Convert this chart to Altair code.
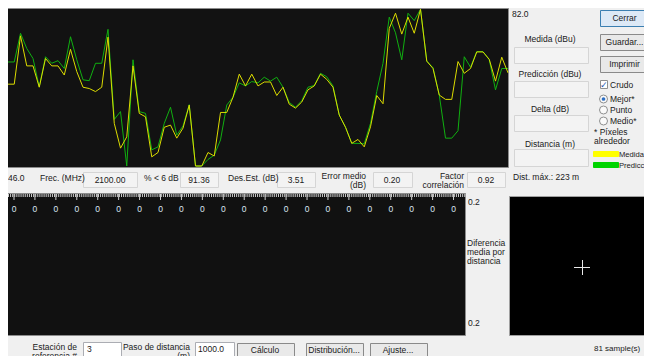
import altair as alt
import pandas as pd
import numpy as np

# ---------------- chart data ----------------
sample = list(range(81))
medida = [64.8, 64.8, 75.9, 69.0, 69.0, 64.1, 70.7, 69.0, 69.0, 66.9,
          72.8, 67.7, 64.1, 63.8, 63.1, 64.1, 75.6, 55.8, 50.1, 52.7,
          69.0, 58.1, 57.3, 48.1, 49.1, 54.9, 55.4, 52.4, 54.7, 60.0,
          46.0, 46.0, 49.1, 48.3, 58.3, 58.3, 61.8, 67.1, 64.4, 67.1,
          64.4, 65.3, 65.3, 62.2, 64.1, 60.2, 59.3, 60.7, 63.5, 64.4,
          67.1, 65.9, 64.1, 57.7, 54.9, 51.2, 52.1, 50.4, 55.0, 62.2,
          60.3, 77.6, 81.1, 76.3, 80.2, 76.5, 82.0, 70.1, 68.4, 62.3,
          61.3, 61.3, 70.0, 67.3, 68.4, 72.2, 72.2, 70.5, 65.5, 71.0, 67.4]
prediccion = [69.9, 69.9, 76.5, 73.0, 70.7, 64.2, 71.1, 69.6, 70.2, 68.4,
              75.7, 70.4, 65.8, 65.6, 69.6, 69.6, 77.4, 56.7, 58.5, 46.0,
              70.4, 58.5, 58.1, 49.7, 50.4, 55.8, 59.5, 53.1, 55.2, 60.1,
              46.0, 46.0, 47.5, 48.5, 52.0, 60.0, 61.8, 65.1, 64.4, 65.4,
              65.1, 66.4, 65.5, 66.4, 64.1, 60.6, 59.5, 61.0, 64.1, 64.5,
              67.3, 66.5, 64.4, 57.7, 54.9, 51.2, 51.2, 51.1, 55.8, 63.1,
              69.6, 80.2, 76.6, 70.4, 81.1, 79.4, 82.0, 70.1, 68.6, 62.3,
              52.4, 52.4, 54.1, 71.1, 68.7, 72.3, 72.3, 70.4, 63.5, 68.4, 68.4]
y_min, y_max = 46.0, 82.0
stats_labels = ["Frec. (MHz)", "% < 6 dB", "Des.Est. (dB)"]
stats_values = ["2100.00", "91.36", "3.51", "0.20", "0.92"]
n_zeros = 22
dist_max = "Dist. máx.: 223 m"
n_samples = "81 sample(s)"

FONT = "Liberation Sans"
TXT = "#1a1a1a"
OFF = 8  # page margin: screen coords -> chart coords


# ---------------- layout helpers ----------------
def R(x1, y1, x2, y2, fill, stroke):
    return dict(x=x1 - OFF + 0.5, y=y1 - OFF + 0.5, x2=x2 - OFF + 0.5, y2=y2 - OFF + 0.5,
                fill=fill, stroke=stroke)


rects = [
    R(7, 8, 508, 167, "#121212", "#8c8c8c"),            # main plot
    R(514, 47, 588, 63, "#f3f3f3", "#d5d5d5"),
    R(514, 81, 588, 97, "#f3f3f3", "#d5d5d5"),
    R(514, 115, 588, 131, "#f3f3f3", "#d5d5d5"),
    R(514, 149, 588, 166, "#f3f3f3", "#d5d5d5"),
    R(600, 10, 649, 26, "#dde9f6", "#3c7fb1"),           # Cerrar
    R(600, 34, 649, 50, "#e9e9e9", "#8a8a8a"),           # Guardar
    R(600, 56, 649, 72, "#e9e9e9", "#8a8a8a"),           # Imprimir
    R(600, 80, 607, 88, "#ffffff", "#8e8f8f"),           # checkbox
    R(593, 151, 618, 156, "#ffff00", "#ffff00"),         # legend medida
    R(593, 162, 618, 167, "#00d400", "#00d400"),         # legend prediccion
    R(83, 172, 137, 187, "#f3f3f3", "#d5d5d5"),
    R(180, 172, 218, 187, "#f3f3f3", "#d5d5d5"),
    R(277, 172, 315, 187, "#f3f3f3", "#d5d5d5"),
    R(373, 172, 412, 187, "#f3f3f3", "#d5d5d5"),
    R(467, 172, 505, 187, "#f3f3f3", "#d5d5d5"),
    R(7, 193, 465, 335, "#111111", "#8c8c8c"),           # lower panel
    R(509, 196, 662, 335, "#000000", "#a0a0a0"),         # right panel
    R(83, 342, 121, 362, "#ffffff", "#abadb3"),
    R(195, 342, 234, 362, "#ffffff", "#abadb3"),
    R(237, 343, 294, 362, "#e9e9e9", "#8a8a8a"),
    R(306, 343, 363, 362, "#e9e9e9", "#8a8a8a"),
    R(370, 343, 427, 362, "#e9e9e9", "#8a8a8a"),
]
rect_df = pd.DataFrame(rects)


def T(x, y, text, color=TXT, size=8.5):
    return dict(x=x - OFF, y=y - OFF, text=text, color=color, size=size)


left_texts = [
    T(512, 14, "82.0"), T(8, 178, "46.0"),
    T(40, 178, stats_labels[0]), T(144, 178, stats_labels[1]), T(228, 178, stats_labels[2]),
    T(513, 177, dist_max),
    T(610, 84.5, "Crudo"), T(610, 99, "Mejor*"), T(610, 110, "Punto"), T(610, 121, "Medio*"),
    T(594, 132, "* Píxeles"), T(594, 141, "alrededor"),
    T(619, 155, "Medida", size=7.6), T(619, 166, "Predicción", size=7.6),
    T(468, 202, "0.2"), T(468, 323, "0.2"),
    T(467, 243, "Diferencia"), T(467, 252, "media por"), T(467, 261, "distancia"),
    T(87, 349, "3"), T(198, 349, "1000.0"),
    T(594, 349, n_samples, size=8),
]
right_texts = [
    T(366, 176, "Error medio"), T(366, 185, "(dB)"),
    T(464, 176, "Factor"), T(464, 185, "correlación"),
    T(77, 347, "Estación de"), T(77, 356, "referencia #"),
    T(190, 347, "Paso de distancia"), T(190, 356, "(m)"),
]
center_texts = [
    T(550, 39, "Medida (dBu)"), T(550, 74, "Predicción (dBu)"),
    T(550, 109, "Delta (dB)"), T(550, 144, "Distancia (m)"),
    T(624.5, 18, "Cerrar"), T(624.5, 42, "Guardar..."), T(624.5, 64, "Imprimir"),
    T(110, 180, stats_values[0]), T(199, 180, stats_values[1]), T(296, 180, stats_values[2]),
    T(392, 180, stats_values[3]), T(486, 180, stats_values[4]),
    T(265, 350, "Cálculo"), T(334, 350, "Distribución..."), T(398, 350, "Ajuste..."),
]
zero_step = 20.93
for k in range(n_zeros):
    center_texts.append(T(14 + zero_step * k, 209, "0", "#dbe6f2", 8.5))

# ruler ticks on the lower panel
minor = np.arange(8.5, 465, zero_step / 10.0)
major = 14 + zero_step * np.arange(n_zeros)
ticks = pd.DataFrame(
    [dict(x=v - OFF, y=194 - OFF, y2=197 - OFF) for v in minor]
    + [dict(x=v - OFF, y=194 - OFF, y2=200 - OFF) for v in major]
)

# crosshair in right panel
cross = pd.DataFrame([
    dict(x=574 - OFF, x2=590 - OFF, y=267.5 - OFF, y2=267.5 - OFF),
    dict(x=582.5 - OFF, x2=582.5 - OFF, y=260 - OFF, y2=275 - OFF),
])

radios = pd.DataFrame([dict(x=603.5 - OFF, y=99 - OFF), dict(x=603.5 - OFF, y=110 - OFF),
                       dict(x=603.5 - OFF, y=121 - OFF)])
radio_sel = radios.iloc[:1]

# ---------------- layers ----------------
PX = dict(scale=None, axis=None)

rect_layer = alt.Chart(rect_df).mark_rect(strokeWidth=1).encode(
    x=alt.X("x:Q", **PX), x2="x2:Q", y=alt.Y("y:Q", **PX), y2="y2:Q",
    fill=alt.Fill("fill:N", scale=None, legend=None),
    stroke=alt.Stroke("stroke:N", scale=None, legend=None),
)


def text_layer(rows, align):
    return alt.Chart(pd.DataFrame(rows)).mark_text(font=FONT, align=align, baseline="middle").encode(
        x=alt.X("x:Q", **PX), y=alt.Y("y:Q", **PX), text="text:N",
        color=alt.Color("color:N", scale=None, legend=None),
        size=alt.Size("size:Q", scale=None, legend=None),
    )


tick_layer = alt.Chart(ticks).mark_rule(color="#cfcfcf", strokeWidth=1).encode(
    x=alt.X("x:Q", **PX), y=alt.Y("y:Q", **PX), y2="y2:Q")
cross_layer = alt.Chart(cross).mark_rule(color="#e8e8e8", strokeWidth=1).encode(
    x=alt.X("x:Q", **PX), x2="x2:Q", y=alt.Y("y:Q", **PX), y2="y2:Q")
radio_layer = alt.Chart(radios).mark_point(shape="circle", size=64, filled=True, fill="#fafafa",
                                          stroke="#8e8f8f", strokeWidth=1, opacity=1).encode(
    x=alt.X("x:Q", **PX), y=alt.Y("y:Q", **PX))
radio_dot = alt.Chart(radio_sel).mark_circle(size=14, color="#2d6fc4", opacity=1).encode(
    x=alt.X("x:Q", **PX), y=alt.Y("y:Q", **PX))
check_layer = alt.Chart(pd.DataFrame([dict(x=603.8 - OFF, y=84.5 - OFF, text="✓")])).mark_text(
    font="DejaVu Sans", fontSize=9, color="#2a56b0", fontWeight="bold").encode(
    x=alt.X("x:Q", **PX), y=alt.Y("y:Q", **PX), text="text:N")

xs = alt.Scale(domain=[0, 80], range=[0, 500])
ys = alt.Scale(domain=[y_min, y_max], range=[158, 1.3])
pred_df = pd.DataFrame({"muestra": sample, "valor": prediccion})
med_df = pd.DataFrame({"muestra": sample, "valor": medida})
pred_line = alt.Chart(pred_df).mark_line(color="#10b010", strokeWidth=1).encode(
    x=alt.X("muestra:Q", scale=xs, axis=None), y=alt.Y("valor:Q", scale=ys, axis=None))
med_line = alt.Chart(med_df).mark_line(color="#dcdc00", strokeWidth=1).encode(
    x=alt.X("muestra:Q", scale=xs, axis=None), y=alt.Y("valor:Q", scale=ys, axis=None))

chart = alt.layer(
    rect_layer, tick_layer, cross_layer, radio_layer, radio_dot, check_layer,
    text_layer(left_texts, "left"), text_layer(right_texts, "right"), text_layer(center_texts, "center"),
    pred_line, med_line,
).resolve_scale(x="independent", y="independent").properties(
    width=636, height=348, padding=0, autosize="none", background="#f0f0f0"
).configure_view(stroke=None)

chart.save("out.html", embed_options={"renderer": "svg", "actions": False})
